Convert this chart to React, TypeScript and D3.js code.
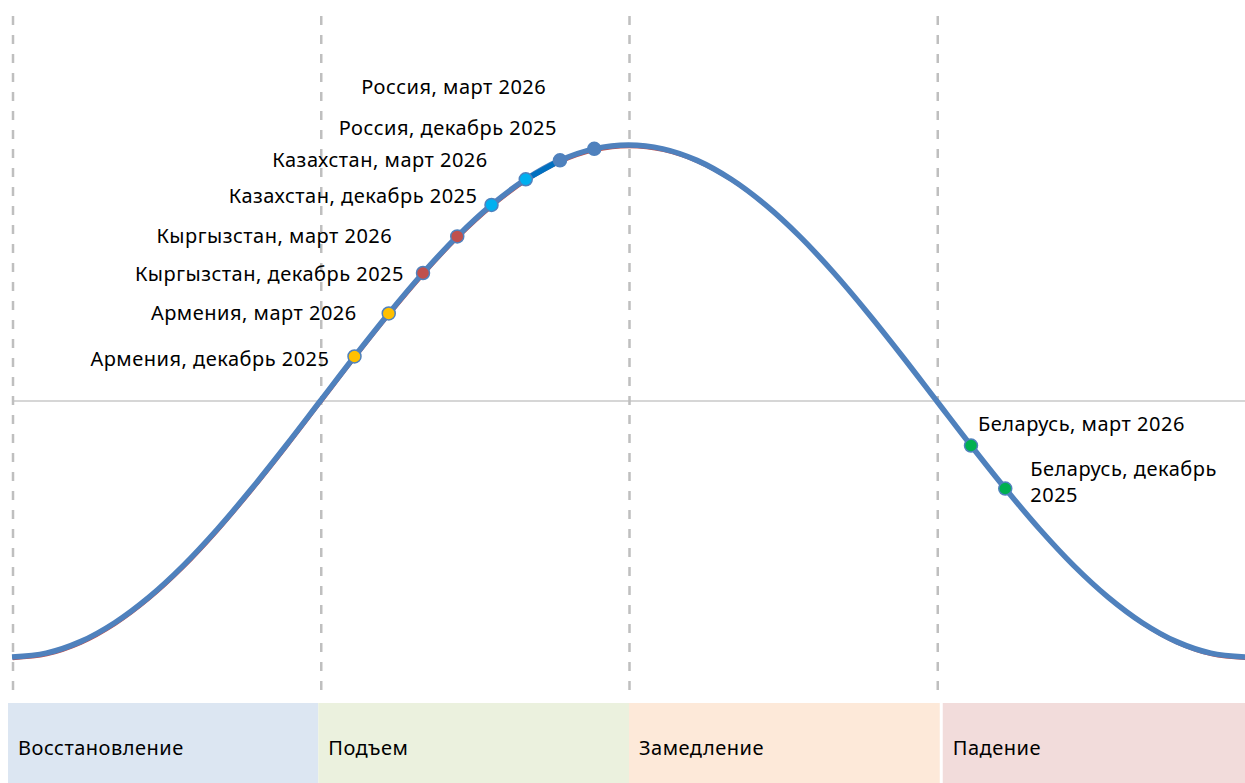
import React, { useEffect, useRef } from 'react';
import * as d3 from 'd3';

// business cycle curve (step = 1/36 of the full cycle)
const cycleValues = [
  -1, -0.985, -0.94, -0.866, -0.766, -0.643, -0.5, -0.342, -0.174,
  0, 0.174, 0.342, 0.5, 0.643, 0.766, 0.866, 0.94, 0.985,
  1, 0.985, 0.94, 0.866, 0.766, 0.643, 0.5, 0.342, 0.174,
  0, -0.174, -0.342, -0.5, -0.643, -0.766, -0.866, -0.94, -0.985, -1,
];

const phaseNames = ['Восстановление', 'Подъем', 'Замедление', 'Падение'];
const phaseColors = ['#dce6f2', '#ebf1de', '#fde9d9', '#f2dcdb'];
const phaseBounds = [0, 9, 18, 27, 36];

const pointLabels = [
  'Армения, декабрь 2025', 'Армения, март 2026',
  'Кыргызстан, декабрь 2025', 'Кыргызстан, март 2026',
  'Казахстан, декабрь 2025', 'Казахстан, март 2026',
  'Россия, декабрь 2025', 'Россия, март 2026',
  'Беларусь, март 2026', 'Беларусь, декабрь 2025',
];
const pointSteps = [10, 11, 12, 13, 14, 15, 16, 17, 28, 29];
const pointColors = [
  '#ffc000', '#ffc000', '#c0504d', '#c0504d', '#00b0f0', '#00b0f0',
  '#4f81bd', '#4f81bd', '#00b050', '#00b050',
];

// label placement relative to its point: dx, dy, anchor
const labelPos: [number, number, string][] = [
  [-25, 2, 'end'], [-32, -1, 'end'], [-19, 0, 'end'], [-65, -1, 'end'],
  [-14, -9, 'end'], [-38, -20, 'end'], [-3, -33, 'end'], [-48, -62, 'end'],
  [7, -22, 'start'], [25, -21, 'start'],
];

const W = 1245, H = 783;
const FONT = "'Noto Sans', sans-serif";
const FS = 20;
const LS = 0.5;

export default function App() {
  const ref = useRef<SVGSVGElement>(null);

  useEffect(() => {
    const svg = d3.select(ref.current);
    svg.selectAll('*').remove();

    const x = d3.scaleLinear().domain([0, 36]).range([12, 1245]);
    const y = d3.scaleLinear().domain([-1, 1]).range([657, 145]);

    // phase bands at the bottom
    const bandTop = 703;
    const bandX0 = [8, x(9) - 2, x(18) + 0.5, x(27) + 6];
    const bandX1 = [x(9) - 2, x(18) + 0.5, x(27) + 3, W];
    phaseNames.forEach((name, i) => {
      svg.append('rect')
        .attr('x', bandX0[i]).attr('y', bandTop)
        .attr('width', bandX1[i] - bandX0[i]).attr('height', H - bandTop)
        .attr('fill', phaseColors[i]);
      svg.append('text')
        .attr('x', bandX0[i] + 10).attr('y', 747)
        .attr('dominant-baseline', 'central')
        .attr('font-family', FONT).attr('font-size', FS)
        .attr('letter-spacing', LS)
        .attr('fill', '#000')
        .text(name);
    });

    // zero line
    svg.append('line')
      .attr('x1', x(0)).attr('x2', W)
      .attr('y1', y(0)).attr('y2', y(0))
      .attr('stroke', '#c8c8c8').attr('stroke-width', 1.5);

    // dashed phase borders
    phaseBounds.slice(0, 4).forEach(b => {
      svg.append('line')
        .attr('x1', x(b) + 1).attr('x2', x(b) + 1)
        .attr('y1', 16).attr('y2', 700)
        .attr('stroke', '#bfbfbf').attr('stroke-width', 2.5)
        .attr('stroke-dasharray', '9,10');
    });

    const line = d3.line<number>()
      .x((_, i) => x(i))
      .y(d => y(d))
      .curve(d3.curveCatmullRom);

    svg.append('path')
      .datum(cycleValues)
      .attr('d', line)
      .attr('transform', 'translate(0.8,2.4)')
      .attr('fill', 'none')
      .attr('stroke', '#c0504d').attr('stroke-width', 1.5);

    svg.append('path')
      .datum(cycleValues)
      .attr('d', line)
      .attr('fill', 'none')
      .attr('stroke', '#4f81bd').attr('stroke-width', 5.5)
      .attr('stroke-linejoin', 'round');

    // highlighted segment between Kazakhstan (March) and Russia (December)
    svg.append('line')
      .attr('x1', x(15)).attr('y1', y(cycleValues[15]))
      .attr('x2', x(16)).attr('y2', y(cycleValues[16]))
      .attr('stroke', '#0070c0').attr('stroke-width', 5.5);

    pointSteps.forEach((s, i) => {
      const px = x(s), py = y(cycleValues[s]);
      svg.append('circle')
        .attr('cx', px).attr('cy', py).attr('r', 6.5)
        .attr('fill', pointColors[i])
        .attr('stroke', '#4f81bd').attr('stroke-width', 1.5);

      const [dx, dy, anchor] = labelPos[i];
      const t = svg.append('text')
        .attr('x', px + dx).attr('y', py + dy)
        .attr('text-anchor', anchor)
        .attr('dominant-baseline', 'central')
        .attr('font-family', FONT).attr('font-size', FS)
        .attr('letter-spacing', LS)
        .attr('fill', '#000');
      if (i === 9) {
        t.append('tspan').attr('x', px + dx).text('Беларусь, декабрь');
        t.append('tspan').attr('x', px + dx).attr('dy', 26).text('2025');
      } else {
        t.text(pointLabels[i]);
      }
    });
  }, []);

  return (
    <svg ref={ref} width={W} height={H}
      style={{ position: 'absolute', left: 0, top: 0, background: '#fff' }} />
  );
}
